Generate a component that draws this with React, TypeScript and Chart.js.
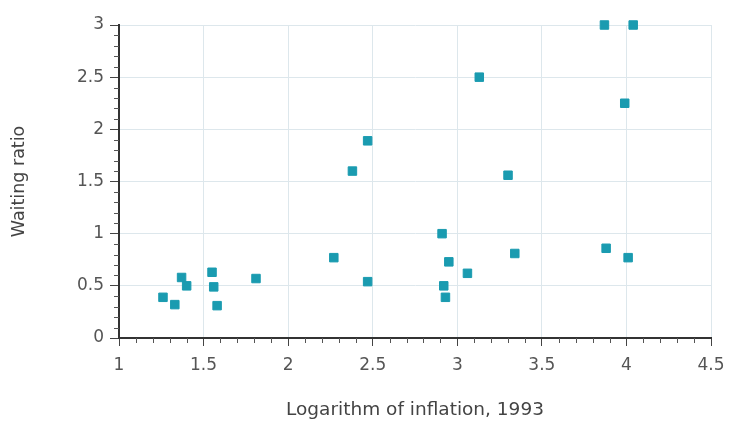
import React, { useEffect, useRef } from "react";
import { Chart, registerables } from "chart.js";

Chart.register(...registerables);

const xValues = [1.26, 1.33, 1.37, 1.40, 1.55, 1.56, 1.58, 1.81, 2.27, 2.47, 2.38, 2.47, 2.91, 2.95, 2.92, 2.93, 3.06, 3.34, 3.13, 3.30, 3.88, 4.01, 3.87, 4.04, 3.99];
const yValues = [0.39, 0.32, 0.58, 0.50, 0.63, 0.49, 0.31, 0.57, 0.77, 0.54, 1.60, 1.89, 1.00, 0.73, 0.50, 0.39, 0.62, 0.81, 2.50, 1.56, 0.86, 0.77, 3.00, 3.00, 2.25];
const xTickValues = [1, 1.5, 2, 2.5, 3, 3.5, 4, 4.5];
const yTickValues = [0, 0.5, 1, 1.5, 2, 2.5, 3];
const xTitle = "Logarithm of inflation, 1993";
const yTitle = "Waiting ratio";

const minorTicks = {
  id: "minorTicks",
  afterDraw(chart: any) {
    const ctx = chart.ctx;
    const xs = chart.scales.x;
    const ys = chart.scales.y;
    ctx.save();
    ctx.strokeStyle = "#555";
    ctx.lineWidth = 1;
    ctx.beginPath();
    for (let i = 10; i <= 45; i++) {
      if (i % 5 === 0) continue;
      const px = Math.round(xs.getPixelForValue(i / 10)) + 0.5;
      ctx.moveTo(px, xs.top);
      ctx.lineTo(px, xs.top + 5);
    }
    for (let i = 0; i <= 30; i++) {
      if (i % 5 === 0) continue;
      const py = Math.round(ys.getPixelForValue(i / 10)) + 0.5;
      ctx.moveTo(ys.right - 5, py);
      ctx.lineTo(ys.right, py);
    }
    ctx.stroke();
    ctx.restore();
  },
};

export default function App() {
  const ref = useRef<HTMLCanvasElement | null>(null);
  useEffect(() => {
    document.body.style.margin = "0";
    const canvas = ref.current;
    if (!canvas) return;
    const family = "'DejaVu Sans', sans-serif";
    const chart = new Chart(canvas, {
      type: "scatter",
      data: {
        datasets: [
          {
            data: xValues.map((x, i) => ({ x, y: yValues[i] })),
            pointStyle: "rect",
            radius: 6,
            hoverRadius: 6,
            backgroundColor: "#1a9bb0",
            borderColor: "#1a9bb0",
            borderWidth: 1,
            clip: false as any,
          },
        ],
      },
      plugins: [minorTicks],
      options: {
        animation: false,
        responsive: false,
        layout: { padding: { top: 25, right: 18, left: 0, bottom: 0 } },
        plugins: { legend: { display: false }, tooltip: { enabled: false } },
        scales: {
          x: {
            type: "linear",
            min: 1,
            max: 4.5,
            afterFit: (s: any) => { s.height = 88; s.paddingRight = 10; s.paddingLeft = 0; },
            afterBuildTicks: (s: any) => { s.ticks = xTickValues.map((v) => ({ value: v })); },
            ticks: { color: "#555", font: { family, size: 17 }, padding: 9, callback: (v: any) => String(v) },
            grid: { color: "#dde7ec", lineWidth: 1, tickLength: 8, tickColor: "#444", drawTicks: true },
            border: { color: "#333", width: 2 },
            title: { display: true, text: xTitle, color: "#444", font: { family, size: 18.5 }, padding: { top: 0, bottom: 5 } },
          },
          y: {
            type: "linear",
            min: 0,
            max: 3,
            afterFit: (s: any) => { s.width = 119; },
            afterBuildTicks: (s: any) => { s.ticks = yTickValues.map((v) => ({ value: v })); },
            ticks: { color: "#555", font: { family, size: 17 }, padding: 6, callback: (v: any) => String(v) },
            grid: { color: "#dde7ec", lineWidth: 1, tickLength: 9, tickColor: "#444", drawTicks: true },
            border: { color: "#333", width: 2 },
            title: { display: true, text: yTitle, color: "#444", font: { family, size: 17.5 }, padding: { top: 9, bottom: 0 } },
          },
        },
      },
    });
    return () => chart.destroy();
  }, []);
  return (
    <div style={{ width: 729, height: 426, background: "#fff" }}>
      <canvas ref={ref} width={729} height={426} />
    </div>
  );
}
